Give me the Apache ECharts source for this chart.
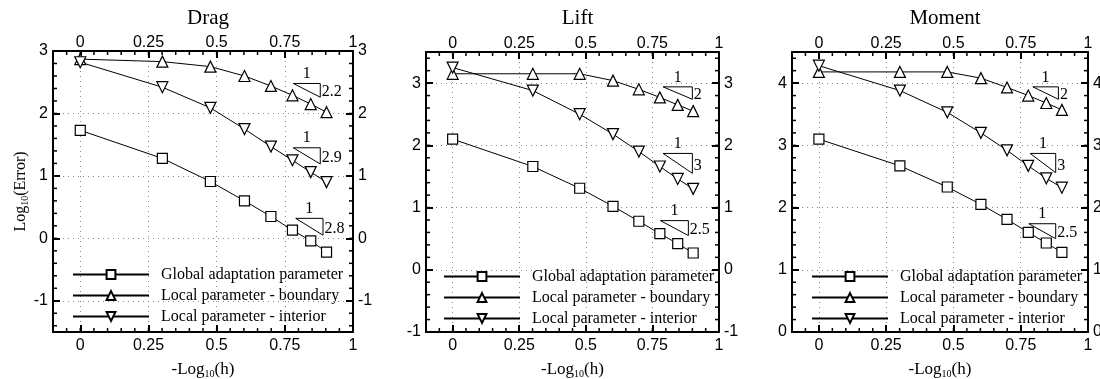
<!DOCTYPE html>
<html>
<head>
<meta charset="utf-8">
<script src="https://cdn.jsdelivr.net/npm/echarts@6/dist/echarts.min.js"></script>
<style>
html,body{margin:0;padding:0;background:#fff;}
#c{width:1100px;height:379px;}
</style>
</head>
<body>
<div id="c"></div>
<script>
// ---------------- DATA ----------------
const panelTitles = ['Drag', 'Lift', 'Moment'];
const seriesNames = ['Global adaptation parameter', 'Local parameter - boundary', 'Local parameter - interior'];
const xValues = [0, 0.301, 0.477, 0.602, 0.699, 0.778, 0.845, 0.903];

const dragGlobal   = [1.73, 1.28, 0.91, 0.60, 0.35, 0.13, -0.04, -0.22];
const dragBoundary = [2.87, 2.83, 2.75, 2.60, 2.44, 2.29, 2.15, 2.02];
const dragInterior = [2.82, 2.42, 2.09, 1.75, 1.47, 1.25, 1.06, 0.90];

const liftGlobal   = [2.10, 1.66, 1.31, 1.02, 0.78, 0.58, 0.42, 0.27];
const liftBoundary = [3.15, 3.15, 3.15, 3.04, 2.90, 2.77, 2.65, 2.55];
const liftInterior = [3.25, 2.88, 2.50, 2.18, 1.90, 1.66, 1.46, 1.30];

const momentGlobal   = [3.10, 2.67, 2.33, 2.05, 1.81, 1.60, 1.43, 1.28];
const momentBoundary = [4.18, 4.18, 4.18, 4.08, 3.93, 3.80, 3.68, 3.57];
const momentInterior = [4.28, 3.88, 3.53, 3.20, 2.92, 2.67, 2.47, 2.32];

const xRange = [-0.1, 1];
const xMajorTicks = [0, 0.25, 0.5, 0.75, 1];
const xMinorStep = 0.05;
const yMinorStep = 0.2;
const dragYRange = [-1.5, 3];
const liftYRange = [-1, 3.5];
const momentYRange = [0, 4.5];
const dragYTicks = [-1, 0, 1, 2, 3];
const liftYTicks = [-1, 0, 1, 2, 3];
const momentYTicks = [0, 1, 2, 3, 4];

// slope triangles: [xLeft, xRight, yTop, yBottom, slopeLabel]
const dragSlopes = [[0.781, 0.88, 2.48, 2.26, '2.2'], [0.781, 0.88, 1.45, 1.19, '2.9'], [0.79, 0.89, 0.32, 0.05, '2.8']];
const liftSlopes = [[0.79, 0.90, 2.94, 2.74, '2'], [0.79, 0.90, 1.87, 1.55, '3'], [0.78, 0.885, 0.79, 0.55, '2.5']];
const momentSlopes = [[0.795, 0.89, 3.94, 3.74, '2'], [0.785, 0.88, 2.87, 2.56, '3'], [0.78, 0.88, 1.74, 1.50, '2.5']];

// ---------------- LAYOUT ----------------
const panels = [
  {title: panelTitles[0], yRange: dragYRange, yTicks: dragYTicks, data: [dragGlobal, dragBoundary, dragInterior], slopes: dragSlopes,
   grid: {left: 53, top: 51, width: 300, height: 281}, legendLeft: 67, legendTop: 261, yName: true},
  {title: panelTitles[1], yRange: liftYRange, yTicks: liftYTicks, data: [liftGlobal, liftBoundary, liftInterior], slopes: liftSlopes,
   grid: {left: 426, top: 52, width: 293, height: 280}, legendLeft: 438, legendTop: 263, yName: false},
  {title: panelTitles[2], yRange: momentYRange, yTicks: momentYTicks, data: [momentGlobal, momentBoundary, momentInterior], slopes: momentSlopes,
   grid: {left: 792, top: 52, width: 296, height: 280}, legendLeft: 806, legendTop: 263, yName: false}
];

function stepTicks(lo, hi, step) {
  const out = [];
  const n0 = Math.ceil(lo / step - 1e-9), n1 = Math.floor(hi / step + 1e-9);
  for (let i = n0; i <= n1; i++) out.push(+(i * step).toFixed(4));
  return out;
}

const SANS = 'Liberation Sans';
const SERIF = 'Liberation Serif';
const symbols = [{symbol: 'rect', size: 10, rot: 0}, {symbol: 'triangle', size: 11, rot: 0}, {symbol: 'triangle', size: 11, rot: 180}];

const option = {
  backgroundColor: '#fff',
  animation: false,
  title: [], grid: [], xAxis: [], yAxis: [], series: [], legend: []
};

const majorLine = {show: true, onZero: false, lineStyle: {color: '#000', width: 2}};
function majorTick(values) {
  return {show: true, inside: true, length: 7, lineStyle: {color: '#000', width: 2}, customValues: values};
}
function tickLabel(values, margin) {
  return {show: true, customValues: values, fontFamily: SANS, fontSize: 16, color: '#000', margin: margin, formatter: v => String(v)};
}
const gridLine = {show: true, lineStyle: {color: '#888', type: [1, 4], width: 1}};
const MINOR_LEN = 4;

panels.forEach((p, gi) => {
  option.grid.push(Object.assign({containLabel: false, outerBoundsMode: 'none'}, p.grid));
  option.title.push({
    text: p.title, left: p.grid.left + p.grid.width / 2, top: 3, textAlign: 'center',
    textStyle: {fontFamily: SERIF, fontSize: 21, fontWeight: 'normal', color: '#000'}
  });
  const xb = option.xAxis.length;
  option.xAxis.push({
    type: 'value', gridIndex: gi, min: xRange[0], max: xRange[1], position: 'bottom',
    name: '-Log{s|10}(h)', nameLocation: 'middle', nameGap: 28, nameMoveOverlap: false,
    nameTextStyle: {fontFamily: SERIF, fontSize: 17, color: '#000', rich: {s: {fontFamily: SERIF, fontSize: 10, padding: [9, 0, 0, 0]}}},
    axisLine: majorLine, axisTick: majorTick(xMajorTicks),
    axisLabel: tickLabel(xMajorTicks, 6), splitLine: gridLine
  });
  option.xAxis.push({
    type: 'value', gridIndex: gi, min: xRange[0], max: xRange[1], position: 'top',
    axisLine: majorLine, axisTick: majorTick(xMajorTicks),
    axisLabel: tickLabel(xMajorTicks, 0), splitLine: {show: false}
  });
  const yb = option.yAxis.length;
  option.yAxis.push({
    type: 'value', gridIndex: gi, min: p.yRange[0], max: p.yRange[1], position: 'left',
    name: p.yName ? 'Log{s|10}(Error)' : '', nameLocation: 'middle', nameGap: 23, nameRotate: 90, nameMoveOverlap: false,
    nameTextStyle: {fontFamily: SERIF, fontSize: 16, color: '#000', rich: {s: {fontFamily: SERIF, fontSize: 10, padding: [9, 0, 0, 0]}}},
    axisLine: majorLine, axisTick: majorTick(p.yTicks),
    axisLabel: tickLabel(p.yTicks, 5), splitLine: gridLine
  });
  option.yAxis.push({
    type: 'value', gridIndex: gi, min: p.yRange[0], max: p.yRange[1], position: 'right',
    axisLine: majorLine, axisTick: majorTick(p.yTicks),
    axisLabel: tickLabel(p.yTicks, 5), splitLine: {show: false}
  });

  // minor ticks: positioned through the panel's own scales (api.coord)
  const xMinor = stepTicks(xRange[0], xRange[1], xMinorStep);
  const yMinor = stepTicks(p.yRange[0], p.yRange[1], yMinorStep);
  const yLo = p.yRange[0], yHi = p.yRange[1];
  option.series.push({
    type: 'custom', coordinateSystem: 'cartesian2d', xAxisIndex: xb, yAxisIndex: yb, silent: true, clip: false, z: 1,
    data: xMinor.map(v => [v]),
    renderItem: (params, api) => {
      const v = api.value(0);
      const b = api.coord([v, yLo]), t = api.coord([v, yHi]);
      const st = {stroke: '#000', lineWidth: 1.5};
      return {type: 'group', children: [
        {type: 'line', shape: {x1: b[0], y1: b[1], x2: b[0], y2: b[1] - MINOR_LEN}, style: st},
        {type: 'line', shape: {x1: t[0], y1: t[1], x2: t[0], y2: t[1] + MINOR_LEN}, style: st}
      ]};
    }
  });
  option.series.push({
    type: 'custom', coordinateSystem: 'cartesian2d', xAxisIndex: xb, yAxisIndex: yb, silent: true, clip: false, z: 1,
    data: yMinor.map(v => [xRange[0], v]),
    renderItem: (params, api) => {
      const v = api.value(1);
      const l = api.coord([xRange[0], v]), r = api.coord([xRange[1], v]);
      const st = {stroke: '#000', lineWidth: 1.5};
      return {type: 'group', children: [
        {type: 'line', shape: {x1: l[0], y1: l[1], x2: l[0] + MINOR_LEN, y2: l[1]}, style: st},
        {type: 'line', shape: {x1: r[0], y1: r[1], x2: r[0] - MINOR_LEN, y2: r[1]}, style: st}
      ]};
    }
  });

  p.data.forEach((arr, si) => {
    option.series.push({
      name: seriesNames[si], type: 'line', xAxisIndex: xb, yAxisIndex: yb,
      data: xValues.map((x, i) => [x, arr[i]]),
      symbol: symbols[si].symbol, symbolSize: symbols[si].size, symbolRotate: symbols[si].rot,
      showAllSymbol: true,
      lineStyle: {color: '#000', width: 1},
      itemStyle: {color: '#fff', borderColor: '#000', borderWidth: 1.2},
      z: 3 + (si === 0 ? 0 : 1)
    });
  });

  p.slopes.forEach(s => {
    const [x0, x1, yt, yb2, lab] = s;
    option.series.push({
      type: 'line', xAxisIndex: xb, yAxisIndex: yb, silent: true, symbol: 'none',
      data: [[x0, yt], [x1, yt], [x1, yb2], [x0, yt]],
      lineStyle: {color: '#000', width: 1}, z: 2
    });
    const lbl = {show: true, fontFamily: SERIF, fontSize: 16, color: '#000', opacity: 1};
    option.series.push({
      type: 'scatter', xAxisIndex: xb, yAxisIndex: yb, silent: true, symbolSize: 1,
      itemStyle: {color: 'rgba(0,0,0,0)'},
      data: [
        {value: [(x0 + x1) / 2, yt], label: Object.assign({position: 'top', distance: 1, formatter: '1'}, lbl)},
        {value: [x1, yt - 0.63 * (yt - yb2)], label: Object.assign({position: 'right', distance: 1, formatter: lab}, lbl)}
      ],
      z: 2
    });
  });

  option.legend.push({
    data: seriesNames, orient: 'vertical', left: p.legendLeft, top: p.legendTop,
    itemWidth: 76, itemHeight: 11, itemGap: 4, selectedMode: false,
    textStyle: {fontFamily: SERIF, fontSize: 16, color: '#000', lineHeight: 17, padding: [0, 0, 0, 7]}
  });
});

const chart = echarts.init(document.getElementById('c'), null, {renderer: 'canvas'});
chart.setOption(option);
</script>
</body>
</html>
